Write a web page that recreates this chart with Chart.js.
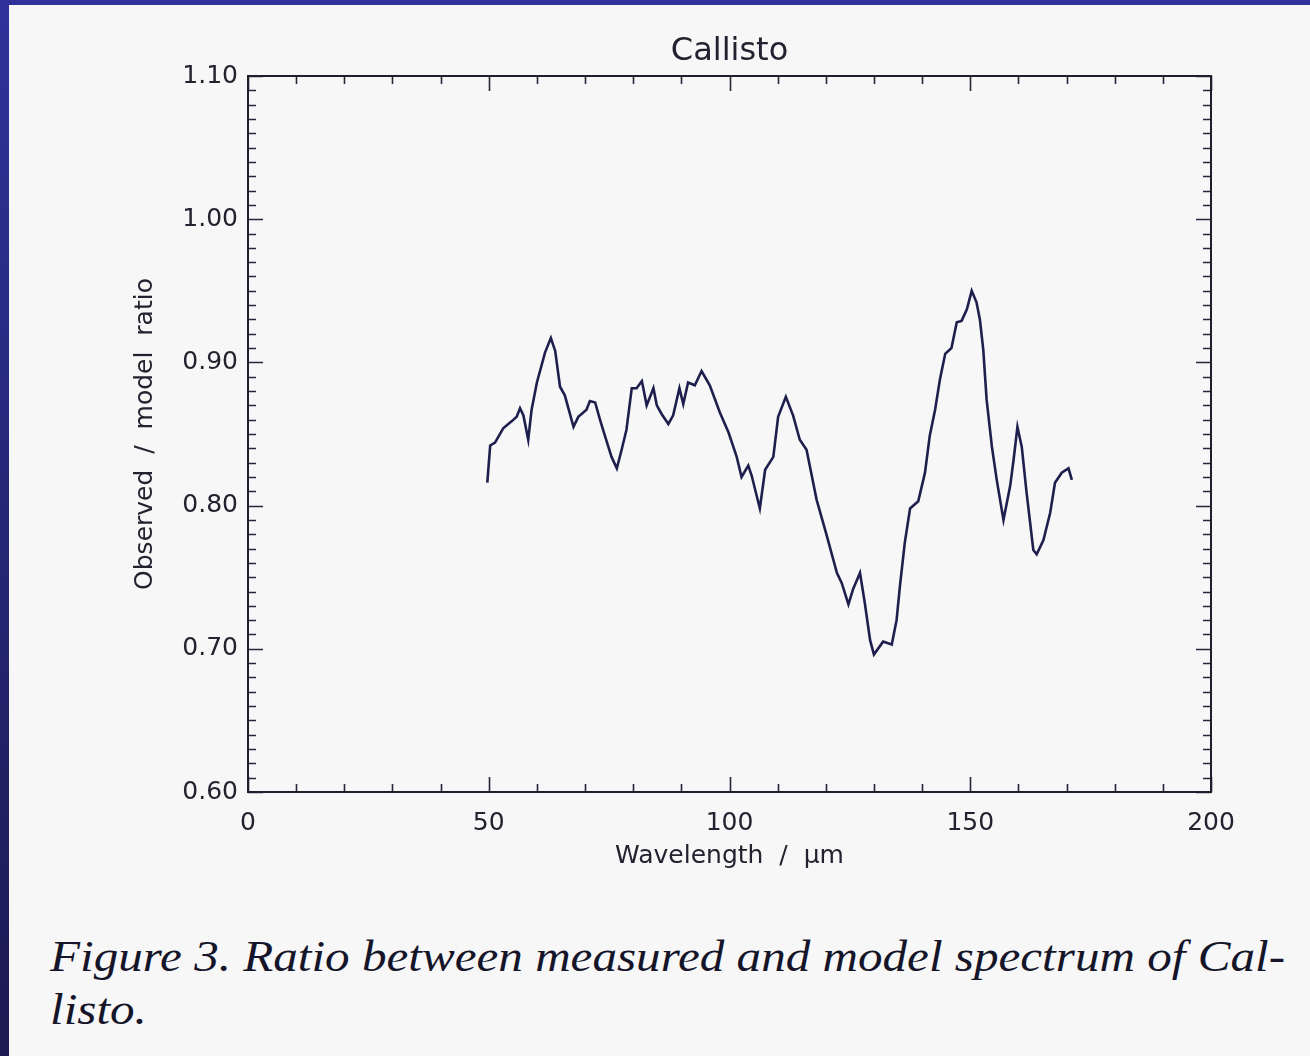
<!DOCTYPE html>
<html>
<head>
<meta charset="utf-8">
<script src="https://cdn.jsdelivr.net/npm/chart.js@4.4.1/dist/chart.umd.min.js"></script>
<style>
  html, body { margin: 0; padding: 0; }
  body { width: 1310px; height: 1056px; background: #f7f7f7; position: relative; overflow: hidden; }
  #edge-left { position: absolute; left: 0; top: 0; width: 9px; height: 1056px; background: linear-gradient(#30329a, #1b1a52); }
  #edge-top { position: absolute; left: 0; top: 0; width: 1310px; height: 5px; background: #30329a; }
  #plot { position: absolute; left: 0; top: 0; }
  .caption { position: absolute; left: 50px; font-family: "Liberation Serif", serif; font-style: italic;
             font-size: 44px; line-height: 44px; color: #15152a; white-space: nowrap; transform-origin: 0 50%; }
</style>
</head>
<body>
<div id="edge-left"></div>
<div id="edge-top"></div>
<canvas id="plot" width="1310" height="900"></canvas>
<div class="caption" id="cap1" style="top:935px">Figure 3. Ratio between measured and model spectrum of Cal-</div>
<div class="caption" id="cap2" style="top:988px">listo.</div>
<script>
// observed / model ratio for Callisto
const wavelength = [
  49.7, 50.3, 51.3, 53.0, 54.8, 55.8, 56.5, 57.2, 58.2, 58.9, 60.0, 61.7, 62.9, 63.8, 64.8,
  65.8, 67.6, 68.6, 70.3, 71.0, 72.1, 73.1, 74.1, 75.5, 76.6, 77.6, 78.6, 79.7, 80.7, 81.8,
  82.8, 84.2, 84.9, 85.9, 87.3, 88.3, 89.6, 90.4, 91.4, 92.8, 94.2, 95.9, 98.0, 99.8, 101.5,
  102.5, 103.9, 104.6, 106.3, 107.4, 109.1, 110.1, 111.7, 113.2, 114.6, 116.0, 118.1, 120.2,
  122.3, 123.3, 124.7, 125.7, 127.1, 128.1, 129.2, 130.0, 131.9, 133.7, 134.7, 135.4, 136.4,
  137.5, 139.2, 140.6, 141.6, 142.7, 143.7, 144.8, 146.1, 147.2, 148.2, 149.3, 150.3, 151.3,
  152.0, 152.7, 153.4, 154.5, 155.5, 156.9, 158.3, 159.0, 159.8, 160.7, 161.7, 163.1, 163.8,
  165.2, 166.6, 167.6, 169.0, 170.4, 171.1
];
const ratio = [
  0.816, 0.842, 0.844, 0.854, 0.859, 0.862, 0.868, 0.863, 0.846, 0.867, 0.886, 0.907, 0.917, 0.908, 0.883,
  0.877, 0.855, 0.862, 0.867, 0.873, 0.872, 0.860, 0.849, 0.834, 0.826, 0.839, 0.853, 0.882, 0.882, 0.887,
  0.870, 0.882, 0.870, 0.864, 0.857, 0.863, 0.882, 0.871, 0.886, 0.884, 0.894, 0.884, 0.865, 0.851, 0.834,
  0.820, 0.828, 0.821, 0.798, 0.825, 0.834, 0.862, 0.876, 0.863, 0.846, 0.839, 0.804, 0.779,
  0.753, 0.746, 0.731, 0.742, 0.753, 0.732, 0.706, 0.696, 0.705, 0.703, 0.720, 0.744, 0.774,
  0.798, 0.803, 0.823, 0.849, 0.867, 0.888, 0.906, 0.910, 0.928, 0.929, 0.937, 0.950, 0.942,
  0.930, 0.909, 0.874, 0.841, 0.818, 0.790, 0.814, 0.832, 0.855, 0.841, 0.809, 0.769, 0.766,
  0.776, 0.795, 0.816, 0.823, 0.826, 0.818
];

const xRange = [0, 200];
const yRange = [0.60, 1.10];
const xMajor = 50, xMinor = 10;
const yMajor = 0.1, yMinor = 0.01;

const ink = '#222230';
const onStep = (v, step) => Math.abs(v / step - Math.round(v / step)) < 1e-6;

// IDL-style box: frame plus inward major/minor ticks on all four sides
const boxTicks = {
  id: 'boxTicks',
  afterDatasetsDraw(chart) {
    const { ctx, chartArea: a, scales: { x, y } } = chart;
    ctx.save();
    ctx.strokeStyle = '#26263c';
    ctx.lineWidth = 1.6;
    ctx.beginPath();
    x.ticks.forEach(t => {
      const px = Math.round(x.getPixelForValue(t.value)) + 0.5;
      const len = onStep(t.value, xMajor) ? 15 : 8;
      ctx.moveTo(px, a.bottom); ctx.lineTo(px, a.bottom - len);
      ctx.moveTo(px, a.top); ctx.lineTo(px, a.top + len);
    });
    y.ticks.forEach(t => {
      const py = Math.round(y.getPixelForValue(t.value)) + 0.5;
      const len = onStep(t.value, yMajor) ? 15 : 8;
      ctx.moveTo(a.left, py); ctx.lineTo(a.left + len, py);
      ctx.moveTo(a.right, py); ctx.lineTo(a.right - len, py);
    });
    ctx.stroke();
    ctx.lineWidth = 2;
    ctx.strokeStyle = '#1e1e2c';
    ctx.strokeRect(a.left, a.top, a.right - a.left, a.bottom - a.top);
    ctx.restore();
  }
};

new Chart(document.getElementById('plot'), {
  type: 'line',
  data: {
    datasets: [{
      data: wavelength.map((w, i) => ({ x: w, y: ratio[i] })),
      borderColor: '#1f1f4e',
      borderWidth: 2.6,
      pointRadius: 0,
      tension: 0,
      fill: false
    }]
  },
  options: {
    responsive: false,
    animation: false,
    layout: { padding: { left: 0, right: 99, top: 0, bottom: 0 } },
    plugins: {
      legend: { display: false },
      tooltip: { enabled: false },
      title: {
        display: true,
        text: 'Callisto',
        fullSize: false,
        color: ink,
        font: { family: 'DejaVu Sans', size: 32, weight: 'normal' },
        padding: { top: 32, bottom: 5.6 }
      }
    },
    scales: {
      x: {
        type: 'linear',
        min: xRange[0], max: xRange[1],
        grid: { display: false, drawTicks: false },
        border: { display: false },
        afterFit(scale) { scale.height = 108; },
        ticks: {
          stepSize: xMinor,
          autoSkip: false,
          maxRotation: 0,
          padding: 16,
          color: ink,
          font: { family: 'DejaVu Sans', size: 25 },
          callback: v => onStep(v, xMajor) ? String(Math.round(v)) : ''
        },
        title: {
          display: true,
          text: 'Wavelength  /  μm',
          color: ink,
          font: { family: 'DejaVu Sans', size: 25 },
          padding: { top: 0, bottom: 28.5 }
        }
      },
      y: {
        min: yRange[0], max: yRange[1],
        grid: { display: false, drawTicks: false },
        border: { display: false },
        afterFit(scale) { scale.width = 248; },
        ticks: {
          stepSize: yMinor,
          autoSkip: false,
          padding: 10,
          color: ink,
          font: { family: 'DejaVu Sans', size: 25 },
          callback: v => onStep(v, yMajor) ? v.toFixed(2) : ''
        },
        title: {
          display: true,
          text: 'Observed  /  model  ratio',
          color: ink,
          font: { family: 'DejaVu Sans', size: 25 },
          padding: { top: 130, bottom: 0 }
        }
      }
    }
  },
  plugins: [boxTicks]
});

// stretch the caption lines to the column width
const cap1 = document.getElementById('cap1');
const k = 1235 / cap1.getBoundingClientRect().width;
document.querySelectorAll('.caption').forEach(el => { el.style.transform = 'scaleX(' + k + ')'; });
</script>
</body>
</html>
